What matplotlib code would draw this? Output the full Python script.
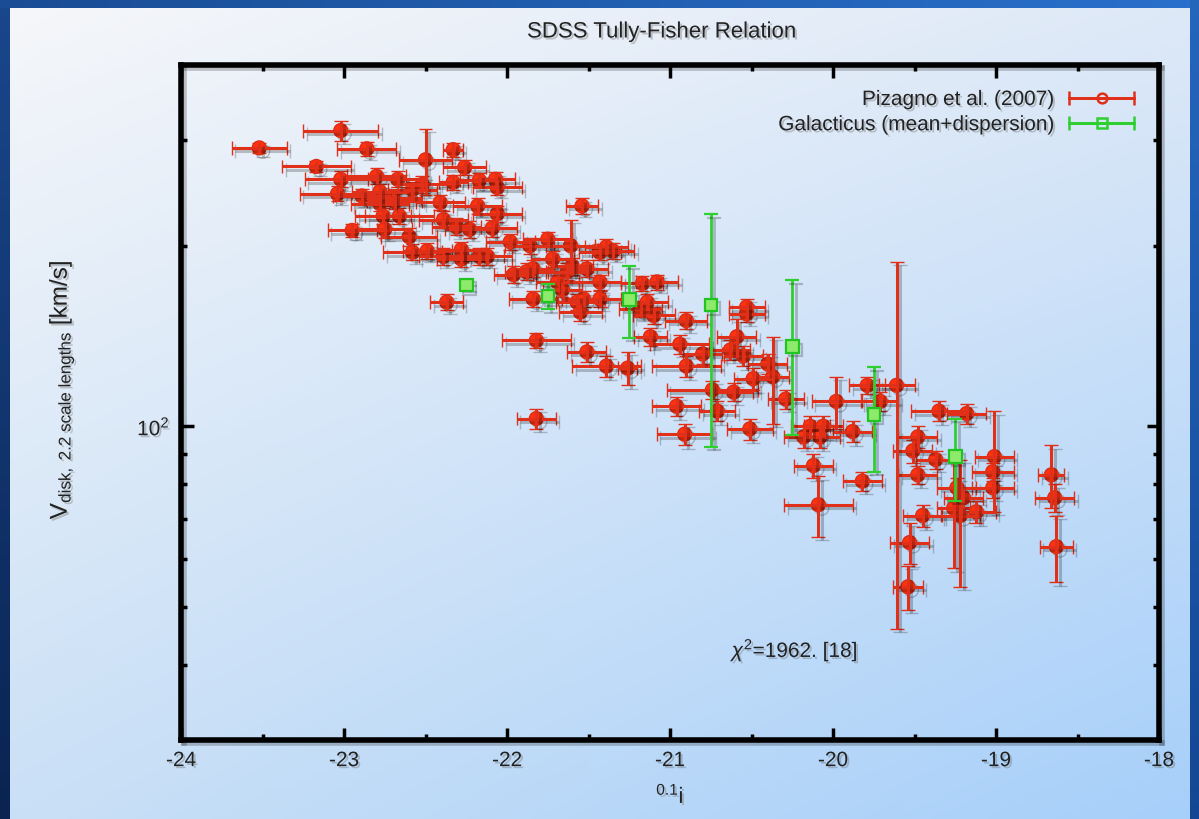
import numpy as np
import matplotlib
matplotlib.use("Agg")
import matplotlib.pyplot as plt
import matplotlib.patheffects as pe
from matplotlib.legend_handler import HandlerErrorbar
from matplotlib.ticker import LogLocator, MultipleLocator, NullFormatter

plt.rcParams['font.family'] = ['Liberation Sans', 'DejaVu Sans']
plt.rcParams['mathtext.fontset'] = 'custom'
plt.rcParams['mathtext.rm'] = 'Liberation Sans'
plt.rcParams['mathtext.it'] = 'Liberation Sans:italic'
plt.rcParams['mathtext.sf'] = 'Liberation Sans'
plt.rcParams['axes.unicode_minus'] = False

# Pizagno et al. (2007): 0.1i magnitude, V_disk at 2.2 scale lengths [km/s], and errors
piz_mag = [
    -23.52, -23.02, -22.86, -22.50, -22.33, -22.26, -23.17, -23.02, -22.80, -22.67,
    -22.52, -22.33, -22.17, -22.07, -22.06, -23.04, -22.89, -22.78, -22.70, -22.58,
    -22.78, -22.66, -22.76, -22.95, -22.75, -22.60, -22.41, -22.39, -22.31, -22.23,
    -22.18, -22.09, -22.06, -22.58, -22.49, -22.39, -22.28, -22.28, -22.17, -21.98,
    -21.86, -21.75, -21.61, -21.96, -21.84, -21.72, -21.60, -22.37, -21.84, -21.66,
    -21.82, -21.54, -21.39, -21.43, -21.08, -21.57, -21.43, -21.14, -21.10, -21.55,
    -20.90, -20.53, -20.53, -21.51, -21.39, -21.26, -21.12, -20.94, -20.90, -20.80,
    -20.59, -20.63, -20.55, -20.40, -20.37, -20.49, -20.74, -20.61, -20.96, -20.71,
    -20.51, -20.91, -21.82, -20.29, -19.98, -19.79, -19.71, -19.61, -20.14, -20.06,
    -19.88, -20.18, -20.08, -20.12, -20.09, -19.82, -19.35, -19.18, -19.48, -19.51,
    -19.37, -19.01, -19.48, -19.02, -19.02, -19.24, -19.20, -19.22, -19.12, -19.45,
    -19.53, -19.54, -18.66, -18.64, -18.63, -21.17, -21.43, -21.35, -21.63, -21.51,
    -21.53, -21.18, -22.12, -21.88, -21.69, -22.69, -19.26,
]
piz_vel = [
    291, 311, 290, 278, 289, 270, 271, 258, 261, 258,
    253, 255, 257, 258, 250, 244, 242, 246, 240, 248,
    235, 224, 224, 212, 213, 207, 236, 221, 215, 213,
    233, 214, 226, 195, 196, 192, 197, 190, 192, 203,
    200, 205, 200, 179, 183, 190, 185, 161, 163, 169,
    139, 233, 199, 174, 174, 161, 163, 161, 153, 155,
    150, 158, 154, 133, 126, 125, 141, 137, 126, 132,
    141, 134, 131, 127, 121, 120, 115, 114, 108, 106,
    99, 97, 103, 111, 110, 117, 110, 117, 100, 100,
    98, 96, 96, 86, 74, 81, 106, 105, 96, 91,
    88, 89, 83, 84, 79, 79, 76, 71, 72, 71,
    64, 54, 83, 76, 63, 173, 195, 196, 181, 183,
    163, 157, 192, 181, 174, 237, 73,
]
piz_mag_err = [
    0.17, 0.23, 0.18, 0.16, 0.06, 0.13, 0.21, 0.22, 0.18, 0.18,
    0.15, 0.09, 0.12, 0.12, 0.15, 0.23, 0.18, 0.17, 0.17, 0.15,
    0.18, 0.21, 0.17, 0.15, 0.17, 0.17, 0.15, 0.15, 0.15, 0.15,
    0.15, 0.15, 0.15, 0.18, 0.15, 0.15, 0.15, 0.15, 0.15, 0.15,
    0.15, 0.15, 0.15, 0.12, 0.13, 0.13, 0.13, 0.10, 0.15, 0.12,
    0.21, 0.10, 0.13, 0.13, 0.13, 0.13, 0.13, 0.13, 0.13, 0.13,
    0.13, 0.11, 0.11, 0.12, 0.21, 0.06, 0.10, 0.18, 0.21, 0.12,
    0.12, 0.12, 0.12, 0.12, 0.10, 0.12, 0.28, 0.12, 0.15, 0.11,
    0.14, 0.17, 0.12, 0.11, 0.15, 0.11, 0.11, 0.11, 0.12, 0.12,
    0.12, 0.12, 0.12, 0.12, 0.21, 0.12, 0.17, 0.12, 0.12, 0.12,
    0.12, 0.12, 0.12, 0.13, 0.13, 0.12, 0.12, 0.12, 0.12, 0.12,
    0.12, 0.09, 0.08, 0.12, 0.10, 0.13, 0.13, 0.13, 0.13, 0.13,
    0.13, 0.13, 0.15, 0.13, 0.13, 0.17, 0.10,
]
piz_vel_err = [
    6, 12, 8, 35, 8, 8, 6, 8, 8, 8,
    8, 7, 7, 7, 7, 7, 7, 7, 7, 7,
    7, 7, 7, 5, 7, 7, 7, 7, 7, 7,
    7, 7, 7, 6, 6, 6, 6, 6, 6, 6,
    6, 6, 21, 6, 6, 6, 6, 5, 5, 5,
    4, 7, 6, 5, 5, 5, 5, 5, 5, 5,
    5, 5, 5, 5, 5, 8, 5, 5, 5, 5,
    10, 5, 5, 5, 20, 5, 4, 4, 4, 4,
    4, 4, 4, 4, 11, 4, 4, 71, 4, 4,
    4, 4, 4, 4, 8.5, 3, 4, 4, 4, 4,
    3, 17, 3, 3, 3, 3, 3, 17, 3, 3,
    5, 4.5, 10, 4, 8, 5, 6, 6, 6, 6,
    5, 5, 6, 6, 5, 7, 15,
]

# Galacticus model: mean and dispersion in magnitude bins
gal_mag = [-22.25, -21.75, -21.25, -20.75, -20.25, -19.75, -19.25]
gal_vel = [171.8, 164.7, 162.8, 159.1, 135.9, 104.7, 89.1]
gal_vel_err = [2, 7.9, 22.4, 66.6, 39.1, 20.8, 13.9]

chi2_text = r'$\chi^2$=1962. [18]'

W, H = 1199, 819
fig = plt.figure(figsize=(W / 100, H / 100), dpi=100)

# slide-style backdrop: light diagonal gradient with a dark blue frame
bg = fig.add_axes([0, 0, 1, 1], zorder=-10)
bg.set_axis_off()
ny, nx = 200, 300
u = np.linspace(0, 1, nx)[None, :, None]
v = np.linspace(0, 1, ny)[:, None, None]
tl = np.array([246, 247, 250]) / 255
tr = np.array([222, 233, 247]) / 255
bl = np.array([202, 224, 246]) / 255
br = np.array([166, 207, 250]) / 255
grad = (tl * (1 - u) * (1 - v) + tr * u * (1 - v) + bl * (1 - u) * v + br * u * v)
bg.imshow(grad, extent=[0, 1, 0, 1], aspect='auto', origin='upper')
left_strip = np.linspace([0.10, 0.28, 0.55], [0.04, 0.14, 0.32], 50)[:, None, :]
bg.imshow(left_strip, extent=[0, 10 / W, 0, 1], aspect='auto', origin='upper')
top_strip = np.linspace([0.10, 0.30, 0.58], [0.16, 0.44, 0.80], 100)[None, :, :]
bg.imshow(top_strip, extent=[0, 1, 1 - 8 / H, 1], aspect='auto', origin='upper')
right_strip = np.linspace([0.14, 0.40, 0.74], [0.08, 0.28, 0.58], 50)[:, None, :]
bg.imshow(right_strip, extent=[1 - 9 / W, 1, 0, 1], aspect='auto', origin='upper')
bg.set_xlim(0, 1)
bg.set_ylim(0, 1)

ax = fig.add_axes([181 / W, 79 / H, 978 / W, 675 / H])
ax.patch.set_alpha(0)
ax.set_yscale('log')

line_shadow = [pe.SimpleLineShadow(offset=(2.5, -2.5), shadow_color='k', alpha=0.22, rho=1.0), pe.Normal()]
text_shadow = [pe.SimplePatchShadow(offset=(1.5, -1.5), shadow_rgbFace='#666666', alpha=0.35), pe.Normal()]

red = ax.errorbar(piz_mag, piz_vel, xerr=piz_mag_err, yerr=piz_vel_err, fmt='o', ms=10,
                  mfc='#ff3210', mec='#dc2c14', mew=1.0, ecolor='#e0301a',
                  elinewidth=2.2, capsize=5, capthick=2.2, zorder=3)
green = ax.errorbar(gal_mag, gal_vel, yerr=gal_vel_err, fmt='s', ms=9,
                    mfc='#8eea6a', mec='#22c422', mew=1.6, ecolor='#2fcf2f',
                    elinewidth=2.0, capsize=5, capthick=2.0, zorder=4)

for cont in (red, green):
    data_line, caplines, barcols = cont.lines
    for art in [data_line, *caplines, *barcols]:
        art.set_path_effects(line_shadow)
for bc in red.lines[2]:
    bc.set_zorder(3.5)

ax.set_xlim(-24, -18)
ax.set_ylim(30, 400)

ax.xaxis.set_major_locator(MultipleLocator(1))
ax.xaxis.set_minor_locator(MultipleLocator(0.5))
ax.yaxis.set_major_locator(LogLocator(base=10, numticks=10))
ax.yaxis.set_minor_locator(LogLocator(base=10, subs=np.arange(2, 10), numticks=20))
ax.yaxis.set_minor_formatter(NullFormatter())
ax.tick_params(which='both', direction='in', top=True, right=True, width=2.5,
               color='k', labelsize=15, labelcolor='#222222')
ax.tick_params(which='major', length=9, pad=8)
ax.tick_params(which='minor', length=4)
for sp in ax.spines.values():
    sp.set_linewidth(4)
    sp.set_color('k')
    sp.set_path_effects(line_shadow)

# legend samples drawn gnuplot-style: horizontal bar with caps and centred symbol
red_proxy = ax.errorbar([np.nan], [np.nan], xerr=[1], fmt='-o', ms=7, mfc='none', mec='#e0301a',
                        color='#e0301a', lw=2, mew=1.8, ecolor='#e0301a', elinewidth=2,
                        capsize=5, capthick=2)
green_proxy = ax.errorbar([np.nan], [np.nan], xerr=[1], fmt='-s', ms=7, mfc='none', mec='#2fcf2f',
                          color='#2fcf2f', lw=2, mew=1.8, ecolor='#2fcf2f', elinewidth=2,
                          capsize=5, capthick=2)
err_handler = HandlerErrorbar(xerr_size=1.55, numpoints=1)
leg = ax.legend([red_proxy, green_proxy], ['Pizagno et al. (2007)', 'Galacticus (mean+dispersion)'],
                loc='upper right', frameon=False, markerfirst=False, fontsize=15,
                handlelength=3.1, handletextpad=0.7, labelspacing=0.3, borderaxespad=0.9,
                borderpad=0.3, handler_map={red_proxy: err_handler, green_proxy: err_handler})
for t in leg.get_texts():
    t.set_color('#222222')
    t.set_path_effects(text_shadow)

ax.text(0.563, 0.133, chi2_text, transform=ax.transAxes, fontsize=15, va='center',
        color='#222222', path_effects=text_shadow)

fig.text(662 / W, 1 - 32 / H, 'SDSS Tully-Fisher Relation', fontsize=16, ha='center',
         va='center', color='#222222', path_effects=text_shadow)
fig.text(62 / W, 1 - 390 / H, r'$\mathrm{V}_{\mathrm{disk,\ 2.2\ scale\ lengths}}$ [km/s]',
         fontsize=17.5, rotation=90, ha='center', va='center', color='#222222',
         path_effects=text_shadow)
fig.text(670 / W, 1 - 795 / H, r'$^{0.1}\mathrm{i}$', fontsize=16, ha='center', va='center',
         color='#222222', path_effects=text_shadow)

fig.canvas.draw()
for lbl in ax.get_xticklabels() + ax.get_yticklabels():
    lbl.set_path_effects(text_shadow)

fig.savefig('out.png', dpi=100)
